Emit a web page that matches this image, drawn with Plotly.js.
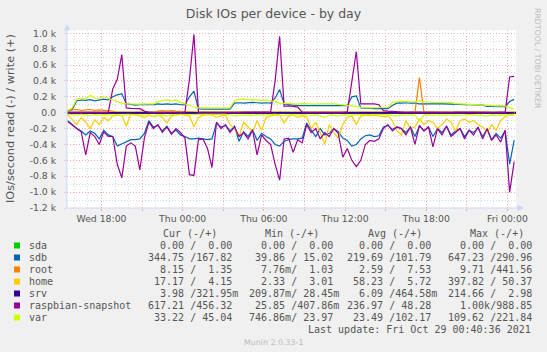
<!DOCTYPE html>
<html>
<head>
<meta charset="utf-8">
<script src="https://cdn.plot.ly/plotly-3.0.1.min.js"></script>
<style>
html,body{margin:0;padding:0;background:#F0F0F0;}
#chart{width:547px;height:352px;}
</style>
</head>
<body>
<div id="chart"></div>
<script>
// ---- data (IOs/second; reads stored as positive magnitudes, drawn negative) ----
const startTime = '2021-10-27 15:30';   // first sample
const stepMinutes = 20;                  // sample spacing

const sdaRead = [0,0,0,0,0,0,0,0,0,0, 0,0,0,0,0,0,0,0,0,0, 0,0,0,0,0,0,0,0,0,0, 0,0,0,0,0,0,0,0,0,0, 0,0,0,0,0,0,0,0,0,0, 0,0,0,0,0,0,0,0,0,0, 0,0,0,0,0,0,0,0,0,0, 0,0,0,0,0,0,0,0,0,0, 0,0,0,0,0,0,0,0,0,0, 0,0,0,0,0,0,0,0,0,0];
const sdaWrite = [0,0,0,0,0,0,0,0,0,0, 0,0,0,0,0,0,0,0,0,0, 0,0,0,0,0,0,0,0,0,0, 0,0,0,0,0,0,0,0,0,0, 0,0,0,0,0,0,0,0,0,0, 0,0,0,0,0,0,0,0,0,0, 0,0,0,0,0,0,0,0,0,0, 0,0,0,0,0,0,0,0,0,0, 0,0,0,0,0,0,0,0,0,0, 0,0,0,0,0,0,0,0,0,0];

const sdbRead = [100,150,200,230,280,230,260,330,220,280, 300,420,390,360,340,340,330,260, 100,180,160,230,170,260,220, 280,300,330,330,320,330,340,330, 130,180,160,230,170,360,240,300,210, 350,260,300,330,400,420,360,340, 330,330,320,130,220,300,200,280,260,200, 240,320,350,420,400,330,290,280,300,290, 180,160,210,180,200,250,180,300,170,230, 180,300,200,250,170,280,230,200,300,220, 250,190,300,210,340,260,320,230,647,345];
const sdbWrite = [20,40,150,160,155,165,150,160,170,160, 200,225,240, 110,100,95,100,105,100,100,110,105,110,105,110,100, 100,200,270, 50,45,45,40,45,45,40,45, 120,125,120,125,130,125,120,125,120, 185,291, 110,100,95,90,90,85,85,90,85,85,90,85,90,85,90, 200,210, 60,55,55,50,50,50,50,90, 120,120,125,120,120, 110,112,110,108,110,110,108,110, 100,102,100,98,100,98,96, 80,78,75,78,75, 140,168];

const rootRead = [3,4,3,5,4,3,4,5,3,4, 3,4,5,3,4,3,2,3,4,3, 4,3,5,4,3,2,3,4,3,2, 3,2,3,4,3,2,3,2,3,4, 3,2,3,2,3,4,3,2,3,2, 3,2,3,4,3,2,3,2,3,2, 3,4,3,2,3,2,3,2,3,2, 3,2,3,2,3,4,3,10,3,2, 3,2,3,2,3,2,3,2,3,2, 3,2,3,2,3,2,3,2,8,8];
const rootWrite = [30,35,40,30,35,40,30,35,30,25, 20, 5,6,5,6,5,6,5,6,5, 20,25,20,25,20,15,10, 5,6,5,6,5,6,5,6,5,6, 5,6,5,6,5,6,5,6,5,6, 5,6,5,6,5,6,5,6,5,6, 5,6,5,6,5,6,5,6,5,6, 5,6,5,6,5,6,5,6,5,6, 5, 441, 5,6,5,6,5,6,5,6,5,6, 5,6,5,6,5,6,5,6,5,6, 2];

const homeRead = [20,80,150,60,120,200,90,150,60,100, 40,30,30,170,20,30,40,60,30,50, 30,60,130,40,30,20,30,40,180,60, 30,25,30,60,40,30,150,200,300,120, 180,250,100,220,60,40,30,30,130,40, 30,60,40,50,200,120,250,398,150,250, 320,150,60,40,150,40,30,40,30,40, 50,40,100,230,280,100,200,180,80,150, 100,120,200,150,80,120,230,100,80,120, 100,150,180,250,150,220,100,50,20,17];
const homeWrite = [5,6,5,4,6,5,7,5,6,5, 4,5,6,5,4,5,6,5,4,5, 6,5,4,5,6,5,4,5,6,5, 4,5,6,5,4,5,6,5,4,5, 6,5,4,5,6,5,4,5,6,5, 4,5,6,5,4,5,6,5,4,5, 6,5,4,5,6,5,4,5,6,5, 4,5,6,5,4,5,6,5,4,5, 6,5,4,5,6,5,4,5,6,5, 4,5,6,5,4,5,6,5,4,4];

const srvRead = [6,5,7,6,5,6,7,5,6,6, 5,6,7,6,5,6,7,5,6,6, 5,6,7,6,5,6,7,5,6,6, 5,6,7,6,5,6,7,5,6,6, 5,6,7,6,5,6,7,5,6,6, 5,6,7,6,5,6,7,5,6,6, 5,6,7,6,5,6,7,5,6,6, 5,6,7,6,5,6,7,5,6,6, 5,6,7,6,5,6,7,5,6,6, 5,6,7,6,5,6,7,5,6,4];
const srvWrite = [0,0,0,0,0,0,0,0,0,0, 0,0,0,0,0,0,0,0,0,0, 0,0,0,0,0,0,0,0,0,0, 0,0,0,0,0,0,0,0,0,0, 0,0,0,0,0,0,0,0,0,0, 0,0,0,0,0,0,0,0,0,0, 0,0,0,0,0,0,0,0,0,0, 0,0,0,0,0,0,0,0,0,0, 0,0,0,0,0,0,0,0,0,0, 0,0,0,0,0,0,0,0,0,0];

const raspRead = [110,160,200,240,530,250,300,400,240,300, 300,650,820,420,380,420,720,320, 120,200,150,250,180,270,200, 250,320,780,790,340,330,450,690, 120,200,150,250,180,300,250,330,220, 530,280,350,400,650,850,330,320, 500,340,380,150,250,200,330,250,300,200, 260,560,450,600,680,600,400,350,360,330, 200,150,230,180,200,280,180,400,160,230, 180,430,200,280,170,300,250,200,330,220, 280,180,330,200,350,280,370,220,1000,617];
const raspWrite = [5,5,6,5,5,6,5,5,6,5, 300,420,730,60, 55,55,50,20, 6,5,6,5,6,5,6,5,8, 420,988, 6,5,6,5,6,5,6,5,6,5,6,5,6,5,6,5,8, 400,960, 80,85,80,70, 6,5,6,5,6,5,6,5,6,5,10, 400,770, 110,110,108,112,100, 25,20,15,10, 6,5,6,5,6,5,6,5,6,5,6,5,6,5,6,5,6,5,6,5,6,5,6,5, 450,456];

const varRead = [20,25,30,22,28,35,25,30,24,28, 30,25,40,22,25,28,24,30,26,45, 30,28,40,25,30,22,26,30,25,20, 22,24,20,25,22,20,30,40,35,28, 30,35,25,30,28,25,22,30,35,28, 25,30,28,26,35,30,40,60,30,35, 40,30,28,25,30,22,25,24,26,22, 25,28,35,40,30,28,35,30,109,30, 28,35,30,28,25,30,35,28,30,25, 30,28,35,40,30,35,28,30,33,33];
const varWrite = [30,60,170,185,175,220,180,185,200,180, 160,140,120, 110,108,112,110,108,110,112, 140,155,165,150,160,130, 110,90,75, 60,60,55,60,60,55,60,60, 150,165,170,160,165,160,155,160,150,140,120, 115,112,110,108,115,110,112,108,110,112,108,110,105,100, 95,90,80, 65,60,60,62,60,60,65, 130,140,145,140,135,140,150,140, 130,128,130,132,128,130, 115,112,110,112,110,108,105, 95,90,85,90,85, 60,45];

const seriesNames  = ['sda','sdb','root','home','srv','raspbian-snapshot','var'];
const seriesColors = ['#00CC00','#0066B3','#FF8000','#FFCC00','#330099','#990099','#CCFF00'];
const readData  = [sdaRead, sdbRead, rootRead, homeRead, srvRead, raspRead, varRead];
const writeData = [sdaWrite, sdbWrite, rootWrite, homeWrite, srvWrite, raspWrite, varWrite];

const yTickVals = [-1200,-1000,-800,-600,-400,-200,0,200,400,600,800,1000];
const yTickText = ['-1.2 k','-1.0 k','-0.8 k','-0.6 k','-0.4 k','-0.2 k','0.0','0.2 k','0.4 k','0.6 k','0.8 k','1.0 k'];

const legendHeaders = ['Cur (-/+)','Min (-/+)','Avg (-/+)','Max (-/+)'];
const legendCur = ['  0.00 /  0.00 ','344.75 /167.82 ','  8.15 /  1.35 ',' 17.17 /  4.15 ','  3.98 /321.95m','617.21 /456.32 ',' 33.22 / 45.04 '];
const legendMin = ['  0.00 /  0.00 ',' 39.86 / 15.02 ','  7.76m/  1.03 ','  2.33 /  3.01 ','209.87m/ 28.45m',' 25.85 /407.86m','746.86m/ 23.97 '];
const legendAvg = ['  0.00 /  0.00 ','219.69 /101.79 ','  2.59 /  7.53 ',' 58.23 /  5.72 ','  6.09 /464.58m','236.97 / 48.28 ',' 23.49 /102.17 '];
const legendMax = ['  0.00 /  0.00 ','647.23 /290.96 ','  9.71 /441.56 ','397.82 / 50.37 ','214.66 /  2.98 ','  1.00k/988.85 ','109.62 /221.84 '];
const lastUpdate = 'Last update: Fri Oct 29 00:40:36 2021';

// ---- layout geometry (pixels) ----
const PL = 67, PT = 30, PW = 449, PH = 178;
const px = x => (x - PL) / PW;
const py = y => (PT + PH - y) / PH;
const nb = s => s.replace(/ /g, '\u00a0');

const t0 = new Date(startTime.replace(' ', 'T') + ':00Z').getTime();
const times = sdaRead.map((_, i) => t0 + i * stepMinutes * 60000);

const traces = [];
for (let k = 0; k < seriesNames.length; k++) {
  traces.push({x: times, y: readData[k].map(v => -v), type: 'scatter', mode: 'lines',
    line: {color: seriesColors[k], width: 1.2}, hoverinfo: 'skip', showlegend: false});
  traces.push({x: times, y: writeData[k], type: 'scatter', mode: 'lines',
    line: {color: seriesColors[k], width: 1.2}, hoverinfo: 'skip', showlegend: false});
}

const FONT = 'DejaVu Sans, sans-serif';
const MONO = 'DejaVu Sans Mono, monospace';
const TXT = '#555555';
const annotations = [];
const shapes = [];

// y-axis title
annotations.push({xref:'paper', yref:'paper', x: px(10), y: py(119), text: 'IOs/second read (-) / write (+)',
  textangle: -90, showarrow: false, xanchor:'center', yanchor:'middle', font:{family: FONT, size: 11.3, color: TXT}});
// watermark
annotations.push({xref:'paper', yref:'paper', x: px(538), y: py(58), text: 'RRDTOOL / TOBI OETIKER',
  textangle: 90, showarrow: false, xanchor:'center', yanchor:'middle', font:{family: FONT, size: 7.8, color: '#BBBBBB'}});
// legend headers
const headerRight = [218.5, 321, 423.5, 526];
legendHeaders.forEach((h, j) => annotations.push({xref:'paper', yref:'paper', x: px(headerRight[j]), y: py(233.5),
  text: nb(h), showarrow:false, xanchor:'right', yanchor:'middle', font:{family: MONO, size: 10, color: TXT}}));
// legend rows
const colStart = [145.8, 246.5, 345.4, 445.9];
const cols = [legendCur, legendMin, legendAvg, legendMax];
seriesNames.forEach((name, r) => {
  const yy = 245.5 + 12 * r;
  shapes.push({type:'rect', xref:'paper', yref:'paper', x0: px(14), x1: px(20), y0: py(yy + 3), y1: py(yy - 3),
    fillcolor: seriesColors[r], line:{width:0}, layer:'above'});
  annotations.push({xref:'paper', yref:'paper', x: px(26.5), y: py(yy), text: nb(name), showarrow:false,
    xanchor:'left', yanchor:'middle', font:{family: MONO, size: 10, color: TXT}});
  cols.forEach((c, j) => annotations.push({xref:'paper', yref:'paper', x: px(colStart[j]), y: py(yy), text: nb(c[r]),
    showarrow:false, xanchor:'left', yanchor:'middle', font:{family: MONO, size: 10, color: TXT}}));
});
annotations.push({xref:'paper', yref:'paper', x: px(533), y: py(329.5), text: nb(lastUpdate), showarrow:false,
  xanchor:'right', yanchor:'middle', font:{family: MONO, size: 10, color: TXT}});
annotations.push({xref:'paper', yref:'paper', x: px(273.5), y: py(342.5), text: 'Munin 2.0.33-1', showarrow:false,
  xanchor:'center', yanchor:'middle', font:{family: FONT, size: 7.9, color: '#BBBBBB'}});

// zero line
shapes.push({type:'line', xref:'paper', yref:'y', x0: 0, x1: 1, y0: 0, y1: 0, line:{color:'#000000', width:2}, layer:'between'});
// axis lines + arrows
const AX = '#CFD6F8';
shapes.push({type:'line', xref:'paper', yref:'paper', x0: px(67), x1: px(518), y0: 0, y1: 0, line:{color: AX, width:1}, layer:'above'});
shapes.push({type:'line', xref:'paper', yref:'paper', x0: px(67), x1: px(67), y0: 0, y1: py(29), line:{color: AX, width:1}, layer:'above'});
shapes.push({type:'path', xref:'paper', yref:'paper', layer:'above', fillcolor: AX, line:{color: AX, width:1},
  path: `M ${px(523)} ${py(208)} L ${px(518)} ${py(205.5)} L ${px(518)} ${py(210.5)} Z`});
shapes.push({type:'path', xref:'paper', yref:'paper', layer:'above', fillcolor: AX, line:{color: AX, width:1},
  path: `M ${px(67)} ${py(25)} L ${px(64.5)} ${py(30)} L ${px(69.5)} ${py(30)} Z`});

const MGRID = '#F2AAAA';
const GRID = '#D8D8D8';
const layout = {
  width: 547, height: 352,
  paper_bgcolor: '#F0F0F0', plot_bgcolor: '#FFFFFF',
  margin: {l: PL, r: 547 - PL - PW, t: PT, b: 352 - PT - PH, pad: 0},
  showlegend: false,
  title: {text: 'Disk IOs per device - by day', xref:'container', yref:'container', x: 273.5/547, y: 1 - 13.5/352,
    xanchor:'center', yanchor:'middle', font:{family: FONT, size: 12.5, color: TXT}},
  xaxis: {
    type: 'date',
    range: [Date.UTC(2021,9,27,15,27,0), Date.UTC(2021,9,29,0,38,10)],
    tickmode: 'linear', tick0: Date.UTC(2021,9,27,18,0,0), dtick: 3*3600000, ticklabelstep: 2,
    tickformat: '%a %H:%M',
    showgrid: true, gridcolor: MGRID, griddash: '1px,2px', gridwidth: 1,
    minor: {tickmode:'linear', tick0: Date.UTC(2021,9,27,18,0,0), dtick: 3600000, showgrid: true, gridcolor: GRID, griddash: '1px,2px', gridwidth: 1},
    ticks: 'outside', ticklen: 2, tickcolor: MGRID,
    showline: false, zeroline: false, fixedrange: true,
    tickfont: {family: FONT, size: 9.3, color: TXT}
  },
  yaxis: {
    range: [-1200, 1041],
    tickmode: 'array', tickvals: yTickVals, ticktext: yTickText,
    showgrid: true, gridcolor: MGRID, griddash: '1px,2px', gridwidth: 1,
    minor: {tickmode:'linear', tick0: 0, dtick: 100, showgrid: true, gridcolor: GRID, griddash: '1px,2px', gridwidth: 1},
    ticks: 'outside', ticklen: 2, tickcolor: AX,
    ticklabelstandoff: 6,
    showline: false, zeroline: false, fixedrange: true,
    tickfont: {family: FONT, size: 9.3, color: TXT}
  },
  annotations: annotations,
  shapes: shapes
};

Plotly.newPlot('chart', traces, layout, {staticPlot: true, displayModeBar: false});
</script>
</body>
</html>
